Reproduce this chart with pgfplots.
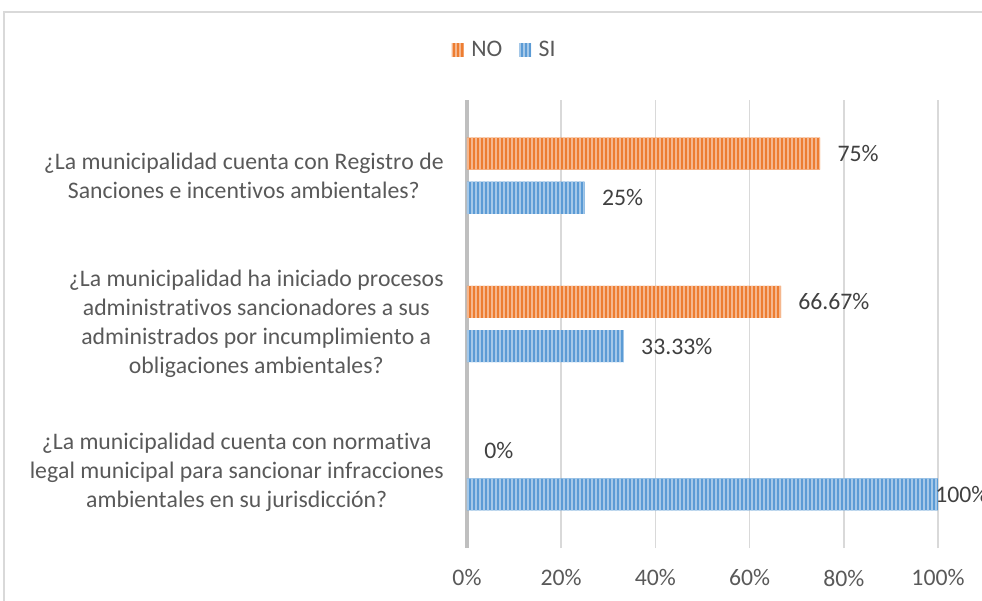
\documentclass[border=0pt]{standalone}
\usepackage{fontspec}
\setmainfont{Carlito}[Ligatures=NoCommon, Kerning=Off]
\usepackage{pgfplots}
\pgfplotsset{compat=1.18}
\usepackage{pgfplotstable}
\usetikzlibrary{patterns.meta}
\definecolor{cno}{HTML}{ED7D31}
\definecolor{csi}{HTML}{5B9BD5}
\definecolor{gridc}{HTML}{D9D9D9}
\definecolor{axc}{HTML}{BFBFBF}
\definecolor{txt}{HTML}{595959}
\definecolor{lbl}{HTML}{404040}

\pgfplotstableread{
y x label shift
2 75 {75\%} 12.75
1 66.67 {66.67\%} 12.75
}\tno
\pgfplotstableread{
y x label shift
2 25 {25\%} 12.75
1 33.33 {33.33\%} 12.75
0 100 {100\%} -2.25
}\tsi

\begin{document}
\begin{tikzpicture}[font=\fontsize{17.8}{21.7}\selectfont]
\useasboundingbox (-350.25pt,-39pt) rectangle (386.25pt,411pt);
\draw[gridc, line width=0.9pt] (-347.25pt,-60pt) |- (420pt,402pt);
\begin{axis}[
  at={(0pt,0pt)}, anchor=south west, scale only axis,
  width=353.25pt, height=336pt,
  xbar, bar width=0.216,
  xmin=0, xmax=100, ymin=-0.51, ymax=2.51,
  xtick={0,20,40,60,80,100},
  xticklabel={\pgfmathprintnumber{\tick}\%},
  /pgf/number format/assume math mode=true,
  ytick={0,1,2},
  yticklabels={{¿La municipalidad cuenta con normativa\\legal municipal para sancionar infracciones\\ambientales en su jurisdicción?},
               {¿La municipalidad ha iniciado procesos\\administrativos sancionadores a sus\\administrados por incumplimiento a\\obligaciones ambientales?},
               {¿La municipalidad cuenta con Registro de\\Sanciones e incentivos ambientales?}},
  yticklabel style={align=center, anchor=east, inner sep=0pt, xshift=-17.25pt, text=txt},
  xticklabel style={anchor=center, inner sep=0pt, yshift=-22.5pt, text=txt},
  axis line style={draw=none},
  major tick length=0pt,
  xmajorgrids,
  grid style={gridc, line width=1.2pt},
  extra x ticks={0},
  extra x tick labels={},
  extra x tick style={grid style={axc, line width=2.4pt}},
  legend columns=2,
  legend style={at={(0.0807,1.1116)}, anchor=center, draw=none, fill=none,
    text=txt, inner sep=0pt,
    /tikz/every odd column/.append style={column sep=3.75pt},
    /tikz/every even column/.append style={column sep=10.5pt}},
  legend image code/.code={\fill[#1] (0pt,-4.9pt) rectangle (9pt,4.9pt);},
]
\addplot[bar shift=0.149, fill=cno, draw=none,
  postaction={pattern={Lines[angle=90,distance=3pt,line width=1pt]}, pattern color=white!45!cno},
  nodes near coords, point meta=explicit symbolic,
  visualization depends on={\thisrow{shift}\as\myshift},
  every node near coord/.append style={anchor=west, xshift=\myshift pt, inner sep=0pt, text=lbl}]
  table[x=x, y=y, meta=label]{\tno};
\addlegendentry{NO}
\addplot[bar shift=-0.149, fill=csi, draw=none,
  postaction={pattern={Lines[angle=90,distance=3pt,line width=1pt]}, pattern color=white!45!csi},
  nodes near coords, point meta=explicit symbolic,
  visualization depends on={\thisrow{shift}\as\myshift},
  every node near coord/.append style={anchor=west, xshift=\myshift pt, inner sep=0pt, text=lbl}]
  table[x=x, y=y, meta=label]{\tsi};
\addlegendentry{SI}
% NO = 0% for the third question: no bar, label only
\addplot[forget plot, only marks, mark=none, bar shift=0pt,
  nodes near coords, point meta=explicit symbolic,
  every node near coord/.append style={anchor=west, xshift=12.75pt, inner sep=0pt, text=lbl}]
  coordinates {(0,0.149) [0\%]};
\end{axis}
\end{tikzpicture}
\end{document}
